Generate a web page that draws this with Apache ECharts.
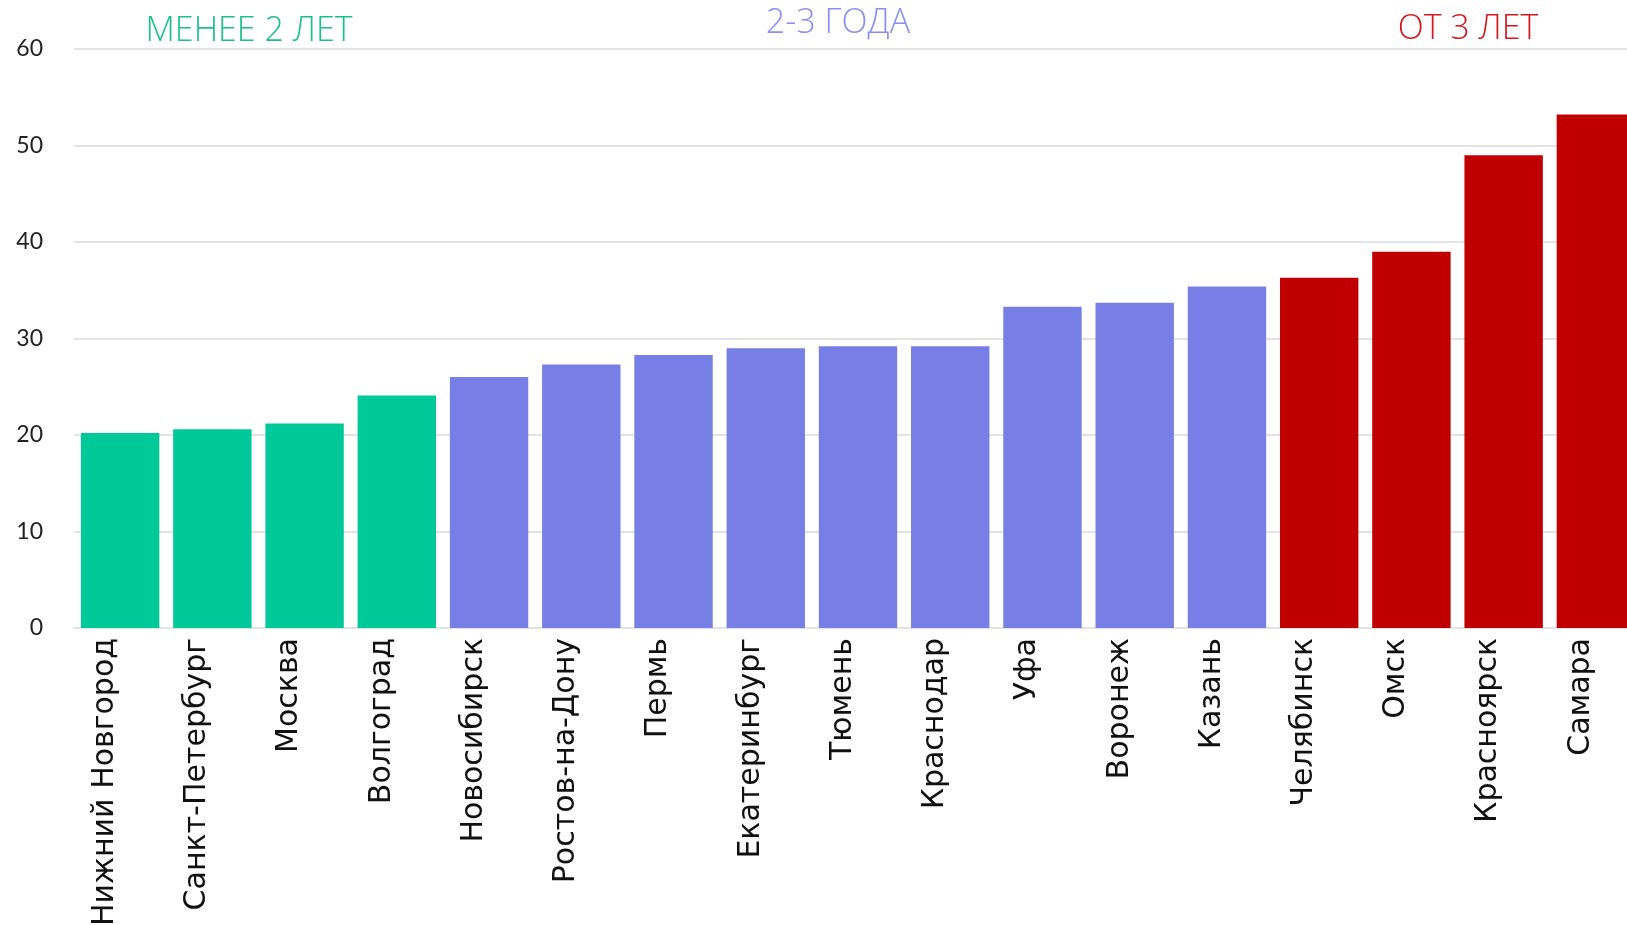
<!DOCTYPE html>
<html>
<head>
<meta charset="utf-8">
<script src="https://cdn.jsdelivr.net/npm/echarts@6/dist/echarts.min.js"></script>
<style>
  html, body { margin: 0; padding: 0; background: #fff; }
  #chart { width: 1627px; height: 925px; }
</style>
</head>
<body>
<div id="chart"></div>
<script>
// data
const cities = ["Нижний Новгород", "Санкт-Петербург", "Москва", "Волгоград", "Новосибирск",
  "Ростов-на-Дону", "Пермь", "Екатеринбург", "Тюмень", "Краснодар", "Уфа", "Воронеж",
  "Казань", "Челябинск", "Омск", "Красноярск", "Самара"];
const values = [20.2, 20.6, 21.2, 24.1, 26.0, 27.3, 28.3, 29.0, 29.2, 29.2, 33.3, 33.7,
  35.4, 36.3, 39.0, 49.0, 53.2];
// group index for each city: 0 = less than 2 years, 1 = 2-3 years, 2 = from 3 years
const groups = [0, 0, 0, 0, 1, 1, 1, 1, 1, 1, 1, 1, 1, 2, 2, 2, 2];
const groupNames = ["МЕНЕЕ 2 ЛЕТ", "2-3 ГОДА", "ОТ 3 ЛЕТ"];
const yTicks = [0, 10, 20, 30, 40, 50, 60];

const barColors = ["#00c999", "#777ee6", "#c00000"];
const titleColors = ["#1dbf8f", "#8a90f0", "#d4161e"];

const chart = echarts.init(document.getElementById("chart"));

// the last bar runs off the right edge in the original, so the grid is wider than the page
const option = {
  animation: false,
  grid: { left: 74, width: 1568, top: 49, bottom: 297, outerBoundsMode: "none", containLabel: false },
  xAxis: {
    type: "category",
    data: cities,
    axisLine: { show: true, lineStyle: { color: "#e3e3e3", width: 2 } },
    axisTick: { show: false },
    axisLabel: {
      rotate: 90,
      margin: 10,
      interval: 0,
      color: "#111",
      fontSize: 30,
      fontFamily: "'DejaVu Sans', Verdana, sans-serif",
      verticalAlign: "bottom"
    }
  },
  yAxis: {
    type: "value",
    min: yTicks[0],
    max: yTicks[yTicks.length - 1],
    interval: 10,
    axisLine: { show: false },
    axisTick: { show: false },
    splitLine: { lineStyle: { color: "#e3e3e3", width: 2 } },
    axisLabel: {
      margin: 31,
      color: "#222",
      fontSize: 23,
      fontFamily: "Lato"
    }
  },
  series: [{
    type: "bar",
    barCategoryGap: "15%",
    data: values.map((v, i) => ({
      value: v,
      itemStyle: { color: barColors[groups[i]] }
    }))
  }]
};

// group titles above the chart
const titlePos = [[249, 31], [838, 23], [1468, 29]];
option.graphic = groupNames.map((name, i) => ({
  type: "text",
  x: titlePos[i][0],
  y: titlePos[i][1],
  style: {
    text: name,
    fill: titleColors[i],
    font: "300 34px 'Open Sans'",
    align: "center",
    verticalAlign: "middle"
  }
}));

chart.setOption(option);
</script>
</body>
</html>
